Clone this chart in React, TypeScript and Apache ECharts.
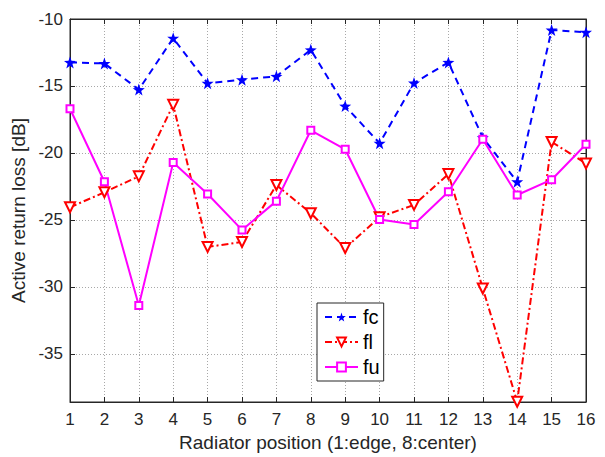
import React, { useEffect, useRef } from "react";
import * as echarts from "echarts";

const positions = [1, 2, 3, 4, 5, 6, 7, 8, 9, 10, 11, 12, 13, 14, 15, 16];
const fc = [-13.24, -13.32, -15.27, -11.43, -14.8, -14.53, -14.28, -12.3, -16.5, -19.28, -14.78, -13.24, -18.86, -22.15, -10.82, -10.99];
const fl = [-24.06, -22.94, -21.75, -16.41, -27.02, -26.65, -22.4, -24.5, -27.1, -24.8, -23.88, -21.58, -30.12, -38.58, -19.18, -20.79];
const fu = [-16.7, -22.15, -31.4, -20.71, -23.07, -25.75, -23.6, -18.31, -19.73, -24.97, -25.34, -22.9, -18.98, -23.14, -22.0, -19.35];
const yTicks = [-35, -30, -25, -20, -15, -10];
const yMin = -38.6;
const yMax = -10;

const starPath =
  "path://M0,-10 L2.35,-3.24 L9.51,-3.09 L3.80,1.24 L5.88,8.09 L0,4 L-5.88,8.09 L-3.80,1.24 L-9.51,-3.09 L-2.35,-3.24 Z";

const FONT = "Liberation Sans, Arial, sans-serif";
const TXT = "#262626";

export default function App() {
  const ref = useRef<HTMLDivElement>(null);
  useEffect(() => {
    if (!ref.current) return;
    const chart = echarts.init(ref.current, undefined, { renderer: "svg" });
    const pts = (arr: number[]) => positions.map((p, i) => [p, arr[i]]);
    const tickCfg = { show: true, inside: true, length: 5, lineStyle: { color: TXT, width: 1 } };
    const gridLine = { show: true, lineStyle: { color: "#a8a8a8", type: [1, 2] as any, width: 1 } };
    chart.setOption({
      animation: false,
      backgroundColor: "#ffffff",
      textStyle: { fontFamily: FONT },
      grid: {
        left: 70,
        right: 19,
        top: 19,
        bottom: 53,
        show: true,
        borderColor: TXT,
        borderWidth: 1,
        backgroundColor: "#ffffff",
      },
      legend: {
        left: 317,
        top: 303,
        orient: "vertical",
        itemWidth: 33,
        itemHeight: 11,
        itemGap: 5,
        padding: [4, 4, 4, 7],
        backgroundColor: "#ffffff",
        borderColor: TXT,
        borderWidth: 1,
        borderRadius: 0,
        textStyle: { fontSize: 20, lineHeight: 20, color: "#000", fontFamily: FONT },
        data: ["fc", "fl", "fu"],
      },
      xAxis: [
        {
          type: "value",
          min: 1,
          max: 16,
          interval: 1,
          name: "Radiator position (1:edge, 8:center)",
          nameLocation: "middle",
          nameGap: 31,
          nameTextStyle: { fontSize: 19, color: TXT, fontFamily: FONT },
          axisLine: { show: true, lineStyle: { color: TXT } },
          axisTick: tickCfg,
          axisLabel: { fontSize: 17, color: TXT, margin: 9, fontFamily: FONT },
          splitLine: gridLine,
        },
        {
          type: "value",
          position: "top",
          min: 1,
          max: 16,
          interval: 1,
          axisLine: { show: true, lineStyle: { color: TXT } },
          axisTick: tickCfg,
          axisLabel: { show: false },
          splitLine: { show: false },
        },
      ],
      yAxis: [
        {
          type: "value",
          min: yMin,
          max: yMax,
          name: "Active return loss [dB]",
          nameLocation: "middle",
          nameGap: 33,
          nameTextStyle: { fontSize: 19, color: TXT, fontFamily: FONT },
          axisLine: { show: true, lineStyle: { color: TXT } },
          axisTick: { ...tickCfg, customValues: yTicks },
          axisLabel: { fontSize: 17, color: TXT, margin: 7, fontFamily: FONT, customValues: yTicks },
          splitLine: gridLine,
        },
        {
          type: "value",
          position: "right",
          min: yMin,
          max: yMax,
          axisLine: { show: true, lineStyle: { color: TXT } },
          axisTick: { ...tickCfg, customValues: yTicks },
          axisLabel: { show: false, customValues: yTicks },
          splitLine: { show: false },
        },
      ],
      series: [
        {
          name: "fc",
          type: "line",
          data: pts(fc),
          symbol: starPath,
          symbolSize: 12,
          lineStyle: { color: "#0000ff", width: 2, type: [7, 5] },
          itemStyle: { color: "#0000ff", borderWidth: 0 },
        },
        {
          name: "fl",
          type: "line",
          data: pts(fl),
          symbol: "emptyTriangle",
          symbolRotate: 180,
          symbolSize: 10,
          lineStyle: { color: "#ff0000", width: 2, type: [7, 3, 2, 3] },
          itemStyle: { color: "#ff0000", borderColor: "#ff0000", borderWidth: 1.3 },
        },
        {
          name: "fu",
          type: "line",
          data: pts(fu),
          symbol: "emptyRect",
          symbolSize: 7,
          lineStyle: { color: "#ff00ff", width: 2, type: "solid" },
          itemStyle: { color: "#ff00ff", borderColor: "#ff00ff", borderWidth: 1.3 },
        },
      ],
    });
    return () => chart.dispose();
  }, []);
  return <div ref={ref} style={{ width: 605, height: 457, position: "absolute", left: 0, top: 0 }} />;
}
